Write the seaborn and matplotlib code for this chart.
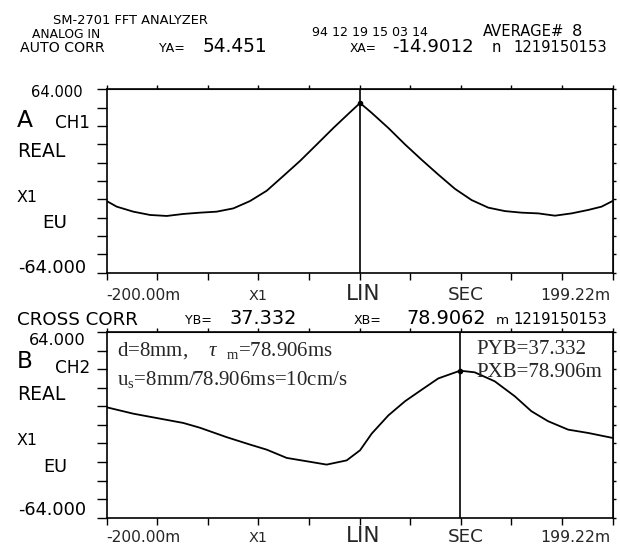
import numpy as np
import matplotlib
matplotlib.use("Agg")
import matplotlib.pyplot as plt
from matplotlib.transforms import blended_transform_factory, offset_copy
import seaborn as sns

# ---------------- data ----------------
xa = [-200, -192.1, -179, -165.8, -152.6, -139.5, -126.4, -113.2, -100, -86.9,
      -73.7, -60.6, -47.4, -34.2, -21.1, -7.9, 0, 9.2, 22.3, 35.5, 48.6, 61.7,
      74.9, 88.0, 101.2, 114.3, 127.5, 140.6, 153.8, 166.9, 180.1, 190.6, 199.22]
ya = [-14.0, -17.9, -21.4, -23.7, -24.4, -23.0, -22.1, -21.4, -19.1, -14.0,
      -6.8, 3.5, 14.0, 25.5, 37.0, 48.0, 54.451, 47.5, 37.0, 25.5, 14.8, 4.5,
      -5.5, -13.3, -18.6, -21.0, -22.1, -22.6, -24.2, -22.6, -20.2, -17.9, -14.0]

xb = [-200, -179, -160.5, -139.5, -126.4, -105.3, -86.9, -73.7, -57.9, -42.1,
      -26.4, -10.6, 0, 9.2, 22.3, 35.5, 48.6, 61.7, 78.906, 90.5, 106.3, 122.1,
      135.2, 148.4, 164.2, 180.1, 199.22]
yb = [12.1, 7.7, 4.7, 1.3, -2.0, -8.5, -13.6, -17.1, -22.8, -25.1,
      -27.4, -24.5, -17.5, -6.0, 6.5, 16.3, 24.2, 32.0, 37.332, 36.2, 30.0, 19.7,
      9.4, 2.5, -3.3, -5.6, -9.0]

cursor_a = (0.0, 54.451)
cursor_b = (78.906, 37.332)

x_min, x_max = -200.0, 199.22
y_min, y_max = -64.0, 64.0
x_tick_labels = {0: "-200.00m", 3: "X1", 5: "LIN", 7: "SEC", 10: "199.22m"}

# ---------------- style ----------------
sns.set_style("white")
plt.rcParams["font.family"] = ["DejaVu Sans"]
plt.rcParams["mathtext.fontset"] = "custom"
plt.rcParams["mathtext.rm"] = "Liberation Serif"
plt.rcParams["mathtext.it"] = "Liberation Serif:italic"

HFONT = dict(family="DejaVu Sans")
SERIF = dict(family="Liberation Serif")
CAP = 0.729  # cap height / em for DejaVu Sans

W, H = 620, 549
fig = plt.figure(figsize=(W / 100, H / 100), dpi=100)
fig.patch.set_facecolor("white")
renderer = fig.canvas.get_renderer()


def size_for(s, width_px, cap_px):
    t = fig.text(0, 0, s, fontsize=10, **HFONT)
    w = t.get_window_extent(renderer).width
    t.remove()
    fit = 10.0 * width_px / w
    by_cap = cap_px / CAP * 0.72 * 1.08
    return min(fit, by_cap)


def htext(x0, x1, yb_px, s, cap):
    fig.text((x0 + x1) / 2 / W, 1 - yb_px / H, s, fontsize=size_for(s, x1 - x0, cap),
             ha="center", va="baseline", color="black", **HFONT)


def make_axes(top, bottom, left=106.7, right=612.5):
    return fig.add_axes([left / W, 1 - bottom / H, (right - left) / W, (bottom - top) / H])


xt = np.linspace(x_min, x_max, 11)
ytk = np.linspace(y_min, y_max, 11)

tick_spec = {0: (78, 10.5, 0), 3: (19, 11.5, 0), 5: (37, 14.5, 4), 7: (36, 14.5, 5), 10: (70, 11, -2)}


def style_axes(ax, label_drop_px):
    ax.set_xlim(x_min, x_max)
    ax.set_ylim(y_min, y_max)
    ax.set_xticks(xt)
    ax.set_yticks(ytk)
    ax.set_xticklabels([])
    ax.set_yticklabels([])
    ax.set_xlabel("")
    ax.set_ylabel("")
    for sp in ax.spines.values():
        sp.set_visible(True)
        sp.set_linewidth(1.2)
        sp.set_color("black")
    ax.tick_params(axis="x", direction="out", length=5, width=1.0, color="black",
                   bottom=True, top=False)
    ax.tick_params(axis="y", direction="out", length=7, width=1.0, color="black",
                   left=True, right=False)
    sx = ax.secondary_xaxis("top")
    sx.set_xticks(xt)
    sx.set_xticklabels([])
    sx.tick_params(direction="out", length=3, width=1.0, color="black")
    sy = ax.secondary_yaxis("right")
    sy.set_yticks(ytk)
    sy.set_yticklabels([])
    sy.tick_params(direction="out", length=2.5, width=1.0, color="black")
    blend = blended_transform_factory(ax.transData, ax.transAxes)
    for i, lab in x_tick_labels.items():
        wpx, cap, shift = tick_spec[i]
        ha = "left" if i == 0 else ("right" if i == 10 else "center")
        tr = offset_copy(blend, fig=fig, x=shift, y=-label_drop_px, units="dots")
        ax.text(xt[i], 0, lab, transform=tr, ha=ha, va="baseline",
                fontsize=size_for(lab, wpx, cap), **HFONT)


# ---------------- panel A ----------------
axA = make_axes(89.3, 272.7)
sns.lineplot(x=xa, y=ya, ax=axA, color="black", linewidth=1.3, sort=True)
axA.axvline(cursor_a[0], color="black", linewidth=1.2)
axA.plot([cursor_a[0]], [cursor_a[1]], "o", color="black", ms=3)
style_axes(axA, 27.3)

# ---------------- panel B ----------------
axB = make_axes(332.0, 517.7)
sns.lineplot(x=xb, y=yb, ax=axB, color="black", linewidth=1.3, sort=True)
axB.axvline(cursor_b[0], color="black", linewidth=1.2)
axB.plot([cursor_b[0]], [cursor_b[1]], "o", color="black", ms=3)
style_axes(axB, 24.5)

# ---------------- header texts ----------------
htext(53, 208, 24, "SM-2701 FFT ANALYZER", 11)
htext(32, 100, 37.5, "ANALOG IN", 10)
htext(310, 430, 36.5, "94 12 19 15 03 14", 8.5)
htext(478, 569, 36.5, "AVERAGE#", 10)
htext(571, 583, 36.5, "8", 11)
htext(20, 105, 52, "AUTO CORR", 12.3)
htext(158, 185, 51.5, "YA=", 8.5)
htext(190, 280, 51.5, "54.451", 12.6)
htext(350, 377, 51.5, "XA=", 8.5)
htext(378, 487, 51.5, "-14.9012", 12.3)
htext(489, 503, 51.5, "n", 10)
htext(513, 607, 51.5, "1219150153", 10)

htext(17, 138, 325, "CROSS CORR", 13)
htext(185, 212, 324, "YB=", 8.5)
htext(222, 305, 324, "37.332", 13)
htext(353, 382, 324, "XB=", 8.5)
htext(397, 496, 324, "78.9062", 13)
htext(496, 509, 324, "m", 10)
htext(512, 608, 324, "1219150153", 10)

# left labels panel A
htext(27, 87, 97, "64.000", 10)
htext(17, 33, 127, "A", 20)
htext(55, 90, 128, "CH1", 13)
htext(17, 65, 157, "REAL", 14)
htext(17, 38, 202, "X1", 13)
htext(42, 67, 228, "EU", 13)
htext(17, 87, 273, "-64.000", 12)

# left labels panel B
htext(27, 87, 345, "64.000", 11)
htext(17, 33, 368, "B", 18)
htext(55, 90, 373, "CH2", 13)
htext(17, 65, 400, "REAL", 14)
htext(17, 38, 445, "X1", 13)
htext(43, 67, 472, "EU", 13)
htext(17, 87, 515, "-64.000", 12)

# serif annotations
fig.text(117 / W, 1 - 356 / H, r"d=8mm,    $\tau$  $_{\mathrm{m}}$=78.906ms",
         fontsize=15, ha="left", va="baseline", **SERIF)
fig.text(117 / W, 1 - 384.5 / H, r"u$_{\mathrm{s}}$=8mm/78.906ms=10cm/s",
         fontsize=15, ha="left", va="baseline", **SERIF)
fig.text(476.7 / W, 1 - 354 / H, "PYB=37.332",
         fontsize=15, ha="left", va="baseline", **SERIF)
fig.text(476.7 / W, 1 - 377 / H, "PXB=78.906m",
         fontsize=15, ha="left", va="baseline", **SERIF)

fig.savefig("out.png", dpi=100, facecolor="white")
